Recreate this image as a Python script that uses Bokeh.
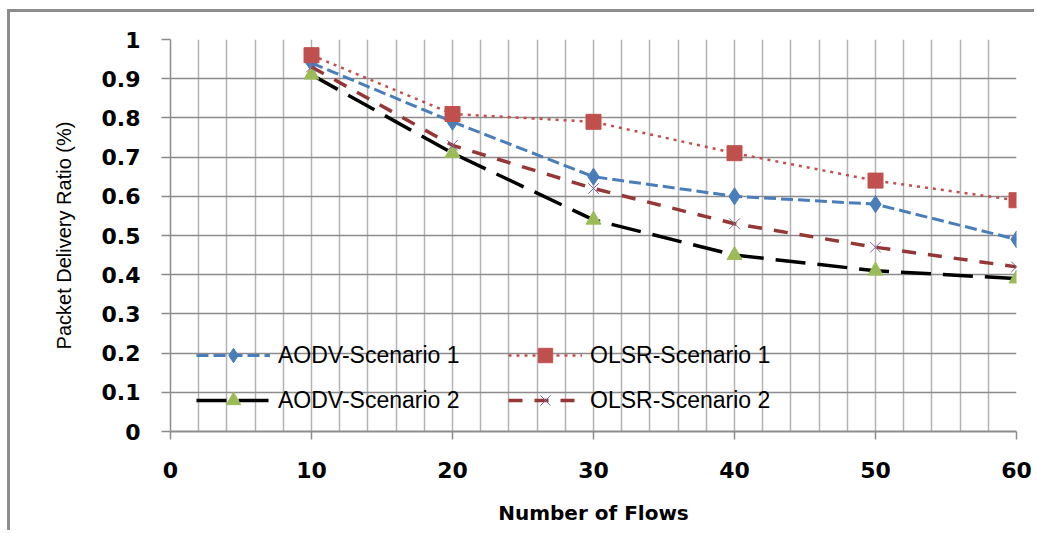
from bokeh.plotting import figure
from bokeh.models import FixedTicker, Legend, LegendItem, Range1d
from bokeh.embed import file_html
from bokeh.resources import INLINE

flows = [10, 20, 30, 40, 50, 60]
aodv_s1 = [0.94, 0.79, 0.65, 0.60, 0.58, 0.49]
olsr_s1 = [0.96, 0.81, 0.79, 0.71, 0.64, 0.59]
aodv_s2 = [0.91, 0.71, 0.54, 0.45, 0.41, 0.39]
olsr_s2 = [0.93, 0.73, 0.62, 0.53, 0.47, 0.42]

x_ticks = [0, 10, 20, 30, 40, 50, 60]
x_grid = [2, 4, 6, 8, 10, 12, 14, 16, 18, 20, 22, 24, 26, 28, 30, 32, 34, 36, 38, 40,
          42, 44, 46, 48, 50, 52, 54, 56, 58, 60]
y_ticks = [0, 0.1, 0.2, 0.3, 0.4, 0.5, 0.6, 0.7, 0.8, 0.9, 1]
y_tick_labels = ["0", "0.1", "0.2", "0.3", "0.4", "0.5", "0.6", "0.7", "0.8", "0.9", "1"]
y_grid = [0.1, 0.2, 0.3, 0.4, 0.5, 0.6, 0.7, 0.8, 0.9]

p = figure(width=1027, height=521, output_backend="svg", toolbar_location=None,
           x_range=Range1d(0, 60), y_range=Range1d(0, 1),
           min_border_left=160, min_border_right=21, min_border_top=27, min_border_bottom=102)
p.styles = {"border-left": "3px solid #8c8c8c", "border-top": "3px solid #8c8c8c",
            "margin-left": "7px", "margin-top": "9px"}
p.outline_line_color = None
p.background_fill_color = "white"
p.border_fill_color = "white"

# grids
p.xgrid.ticker = FixedTicker(ticks=x_grid)
p.xgrid.grid_line_color = "#b3b3b3"
p.xgrid.grid_line_width = 1.5
p.ygrid.ticker = FixedTicker(ticks=y_grid)
p.ygrid.grid_line_color = "#8c8c8c"
p.ygrid.grid_line_width = 1.5

# axes
p.xaxis.ticker = FixedTicker(ticks=x_ticks)
p.xaxis.axis_line_color = "#8c8c8c"
p.xaxis.axis_line_width = 2
p.xaxis.major_tick_line_color = "#8c8c8c"
p.xaxis.major_tick_line_width = 1.5
p.xaxis.major_tick_out = 8
p.xaxis.major_tick_in = 0
p.xaxis.minor_tick_line_color = None
p.xaxis.major_label_text_font = "DejaVu Sans"
p.xaxis.major_label_text_font_style = "bold"
p.xaxis.major_label_text_font_size = "22px"
p.xaxis.major_label_text_color = "black"
p.xaxis.major_label_standoff = 22
p.xaxis.axis_label = "Number of Flows"
p.xaxis.axis_label_text_font = "DejaVu Sans"
p.xaxis.axis_label_text_font_style = "bold"
p.xaxis.axis_label_text_font_size = "20px"
p.xaxis.axis_label_text_color = "black"
p.xaxis.axis_label_standoff = 20

p.yaxis.ticker = FixedTicker(ticks=y_ticks)
p.yaxis.major_label_overrides = {t: s for t, s in zip(y_ticks, y_tick_labels)}
p.yaxis.axis_line_color = "#8c8c8c"
p.yaxis.axis_line_width = 1.5
p.yaxis.major_tick_line_color = "#8c8c8c"
p.yaxis.major_tick_line_width = 1.5
p.yaxis.major_tick_out = 9
p.yaxis.major_tick_in = 0
p.yaxis.minor_tick_line_color = None
p.yaxis.major_label_text_font = "DejaVu Sans"
p.yaxis.major_label_text_font_style = "bold"
p.yaxis.major_label_text_font_size = "22px"
p.yaxis.major_label_text_color = "black"
p.yaxis.major_label_standoff = 21
p.yaxis.axis_label = "Packet Delivery Ratio (%)"
p.yaxis.axis_label_text_font = "Liberation Sans"
p.yaxis.axis_label_text_font_style = "normal"
p.yaxis.axis_label_text_font_size = "20px"
p.yaxis.axis_label_text_color = "black"
p.yaxis.axis_label_standoff = 24

# series
l1 = p.line(flows, aodv_s1, line_color="#4a7ebb", line_width=3, line_dash="12 5")
m1 = p.scatter(flows, aodv_s1, marker="diamond", size=17, fill_color="#4a7ebb", line_color="#4a7ebb")
l2 = p.line(flows, olsr_s1, line_color="#c0504d", line_width=2.5, line_dash="3 5")
m2 = p.scatter(flows, olsr_s1, marker="square", size=15, fill_color="#c0504d", line_color="#c0504d")
l3 = p.line(flows, aodv_s2, line_color="black", line_width=3.5, line_dash="30 12")
m3 = p.scatter(flows, aodv_s2, marker="triangle", size=15, fill_color="#9bbb59", line_color="#9bbb59")
l4 = p.line(flows, olsr_s2, line_color="#953735", line_width=3.5, line_dash="14 12")
m4 = p.scatter(flows, olsr_s2, marker="x", size=15, line_color="#8064a2", line_width=1)

legend = Legend(items=[
    LegendItem(label="AODV-Scenario 1", renderers=[l1, m1]),
    LegendItem(label="AODV-Scenario 2", renderers=[l3, m3]),
    LegendItem(label="OLSR-Scenario 1", renderers=[l2, m2]),
    LegendItem(label="OLSR-Scenario 2", renderers=[l4, m4]),
], ncols=2, location=(26, 13))
legend.glyph_width = 74
legend.glyph_height = 36
legend.label_height = 36
legend.label_width = 221
legend.label_standoff = 8
legend.spacing = 9
legend.padding = 0
legend.margin = 0
legend.border_line_color = None
legend.background_fill_alpha = 0
legend.label_text_font = "Liberation Sans"
legend.label_text_font_size = "23px"
legend.label_text_color = "black"
p.add_layout(legend, "center")

open("out.html", "w").write(file_html(p, INLINE))
